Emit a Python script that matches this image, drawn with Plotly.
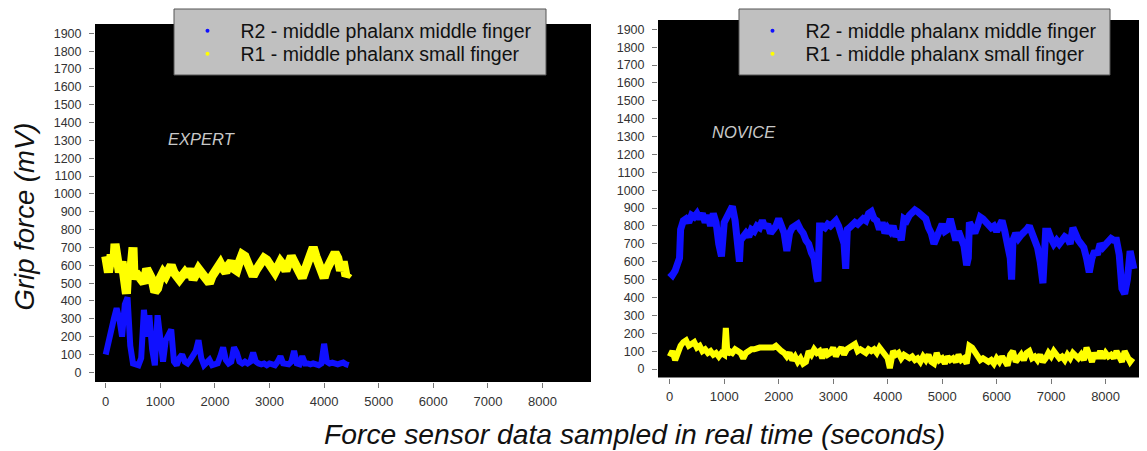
import plotly.graph_objects as go

# The page body adds an 8px margin, so the figure is 8px smaller than the window
OFF = 8
W, H = 1147 - OFF, 451 - OFF

# ---------------- data ----------------
series_names = ["R2 - middle phalanx middle finger", "R1 - middle phalanx small finger"]
panel_labels = ["EXPERT", "NOVICE"]
x_ticks = [0, 1000, 2000, 3000, 4000, 5000, 6000, 7000, 8000]
y_ticks = list(range(0, 2000, 100))

# EXPERT - R1 (yellow)
exp_r1_t = [0, 50, 100, 150, 170, 200, 250, 300, 350, 380, 400, 450, 500, 520, 550, 600, 650, 700, 750, 800,
            850, 900, 950, 1000, 1050, 1100, 1150, 1200, 1250, 1300, 1350, 1400, 1450, 1500, 1550, 1600, 1650,
            1700, 1750, 1800, 1850, 1900, 1950, 2000, 2050, 2100, 2150, 2200, 2250, 2300, 2350, 2400, 2450,
            2500, 2550, 2600, 2650, 2700, 2750, 2800, 2850, 2900, 2950, 3000, 3050, 3100, 3150, 3200, 3250,
            3300, 3350, 3400, 3450, 3500, 3550, 3600, 3650, 3700, 3750, 3800, 3850, 3900, 3950, 4000, 4050,
            4100, 4150, 4200, 4250, 4300, 4350, 4400, 4450]
exp_r1_v = [650, 560, 660, 620, 720, 640, 560, 620, 460, 440, 560, 540, 700, 520, 560, 540, 520, 500, 580, 560,
            520, 450, 470, 530, 560, 540, 580, 600, 560, 540, 520, 540, 560, 540, 580, 520, 560,
            580, 560, 540, 520, 500, 540, 570, 590, 610, 580, 560, 600, 620, 580, 570, 620,
            660, 650, 610, 580, 540, 570, 600, 620, 640, 630, 600, 570, 560, 590, 620, 600,
            570, 610, 650, 620, 600, 560, 530, 580, 630, 660, 700, 650, 600, 560, 530, 580,
            620, 650, 670, 640, 570, 620, 540, 560]

# EXPERT - R2 (blue)
exp_r2_t = [0, 50, 100, 150, 200, 250, 300, 350, 400, 450, 500, 550, 600, 650, 700, 750, 800, 850, 900, 950,
            1000, 1050, 1100, 1150, 1200, 1250, 1300, 1350, 1400, 1450, 1500, 1550, 1600, 1650, 1700, 1750,
            1800, 1850, 1900, 1950, 2000, 2050, 2100, 2150, 2200, 2250, 2300, 2350, 2400, 2450, 2500, 2550,
            2600, 2650, 2700, 2750, 2800, 2850, 2900, 2950, 3000, 3050, 3100, 3150, 3200, 3250, 3300, 3350,
            3400, 3450, 3500, 3550, 3600, 3650, 3700, 3750, 3800, 3850, 3900, 3950, 4000, 4050, 4100, 4150,
            4200, 4250, 4300, 4350, 4400, 4450]
exp_r2_v = [100, 180, 260, 300, 360, 300, 200, 380, 420, 150, 50, 40, 40, 80, 350, 200, 320, 130, 40, 320,
            200, 60, 180, 220, 240, 60, 40, 80, 100, 60, 50, 70, 90, 120, 180, 80,
            40, 50, 70, 40, 50, 50, 90, 140, 70, 50, 60, 140, 110, 60, 50, 60,
            50, 60, 110, 60, 50, 45, 50, 40, 50, 45, 40, 60, 90, 50, 50, 45,
            60, 120, 50, 45, 90, 50, 50, 45, 50, 45, 40, 50, 160, 60, 50, 55,
            50, 45, 50, 55, 45, 40]

# NOVICE - R2 (blue)
nov_r2_t = [0, 50, 100, 150, 180, 200, 250, 300, 350, 400, 450, 500, 550, 600, 650, 700, 750, 800, 850, 900,
            950, 1000, 1050, 1100, 1150, 1200, 1250, 1280, 1300, 1350, 1400, 1450, 1500, 1550, 1600, 1650,
            1700, 1750, 1800, 1850, 1900, 1950, 2000, 2050, 2100, 2150, 2200, 2250, 2300, 2350, 2400, 2450,
            2500, 2550, 2600, 2650, 2700, 2720, 2750, 2800, 2850, 2900, 2950, 3000, 3050, 3100, 3150, 3200,
            3230, 3260, 3300, 3350, 3400, 3450, 3500, 3550, 3600, 3650, 3700, 3750, 3800, 3850, 3900, 3950,
            4000, 4050, 4100, 4150, 4200, 4250, 4300, 4350, 4400, 4450, 4500, 4550, 4600, 4650, 4700, 4750,
            4800, 4850, 4900, 4950, 5000, 5050, 5100, 5150, 5200, 5250, 5300, 5350, 5400, 5450, 5480, 5500,
            5550, 5600, 5650, 5700, 5750, 5800, 5850, 5900, 5950, 6000, 6050, 6100, 6150, 6200, 6250, 6275,
            6300, 6350, 6400, 6450, 6500, 6550, 6600, 6650, 6700, 6750, 6800, 6850, 6900, 6950, 7000, 7050,
            7100, 7150, 7200, 7250, 7300, 7350, 7400, 7450, 7500, 7550, 7600, 7650, 7700, 7750, 7800, 7850,
            7900, 7950, 8000, 8050, 8100, 8150, 8200, 8250, 8300, 8350, 8400, 8450, 8500, 8520]
nov_r2_v = [540, 525, 550, 600, 620, 780, 830, 840, 820, 860, 850, 870, 840, 870, 820, 860, 800, 870, 820, 700,
            630, 820, 850, 860, 910, 830, 700, 600, 720, 740, 760, 740, 780, 770, 800, 790,
            830, 790, 810, 760, 780, 800, 840, 810, 760, 660, 760, 790, 800, 810, 780, 760,
            720, 700, 650, 620, 510, 490, 800, 800, 790, 810, 800, 820, 830, 800, 740, 700,
            560, 780, 790, 800, 820, 810, 830, 840, 830, 870, 880, 840, 830, 780, 820, 760,
            790, 770, 800, 740, 770, 720, 840, 830, 860, 870, 890, 880, 870, 850, 840, 790,
            760, 700, 740, 790, 810, 770, 780, 840, 760, 720, 770, 720, 690, 580, 620, 820,
            790, 760, 800, 850, 840, 820, 810, 790, 800, 770, 800, 830, 770, 700, 620, 500,
            720, 760, 730, 750, 760, 780, 800, 760, 700, 680, 600, 480, 770, 770, 730, 700,
            720, 700, 720, 740, 730, 700, 790, 750, 720, 700, 680, 620, 540, 620, 660, 640,
            700, 680, 700, 720, 730, 720, 720, 640, 450, 420, 500, 660, 600, 560]

# NOVICE - R1 (yellow)
nov_r1_t = [0, 50, 100, 150, 200, 250, 300, 350, 400, 450, 500, 550, 600, 650, 700, 750, 800, 850, 900, 950,
            1000, 1030, 1060, 1100, 1150, 1200, 1250, 1300, 1350, 1400, 1450, 1500, 1550, 1600, 1650, 1700,
            1750, 1800, 1850, 1900, 1950, 2000, 2050, 2100, 2150, 2200, 2250, 2300, 2350, 2400, 2450, 2500,
            2550, 2600, 2650, 2700, 2750, 2800, 2850, 2900, 2950, 3000, 3050, 3100, 3150, 3200, 3250, 3300,
            3350, 3400, 3450, 3500, 3550, 3600, 3650, 3700, 3750, 3800, 3850, 3900, 3950, 4000, 4040, 4070,
            4100, 4150, 4200, 4250, 4300, 4350, 4400, 4450, 4500, 4550, 4600, 4650, 4700, 4750, 4800, 4850,
            4900, 4950, 5000, 5050, 5100, 5150, 5200, 5250, 5300, 5350, 5400, 5450, 5500, 5550, 5600, 5650,
            5700, 5750, 5800, 5850, 5900, 5950, 6000, 6050, 6100, 6150, 6200, 6250, 6300, 6350, 6400, 6450,
            6500, 6550, 6600, 6650, 6700, 6750, 6800, 6850, 6900, 6950, 7000, 7050, 7100, 7150, 7200, 7250,
            7300, 7350, 7400, 7450, 7500, 7550, 7600, 7650, 7700, 7750, 7800, 7850, 7900, 7950, 8000, 8050,
            8100, 8150, 8200, 8250, 8300, 8350, 8400, 8450, 8500]
nov_r1_v = [70, 100, 50, 100, 130, 150, 160, 130, 140, 150, 120, 130, 100, 110, 90, 100, 80, 90, 70, 90,
            80, 230, 80, 100, 90, 110, 100, 90, 60, 90, 100, 110, 110, 120, 120, 120,
            120, 125, 120, 120, 130, 110, 100, 90, 70, 90, 50, 70, 40, 60, 30, 40,
            100, 80, 110, 90, 100, 60, 110, 80, 90, 120, 70, 100, 120, 80, 110, 120,
            130, 140, 100, 110, 100, 90, 110, 100, 110, 90, 120, 100, 80, 60, 5, 70,
            100, 80, 90, 60, 80, 70, 60, 70, 50, 60, 40, 70, 50, 80, 40, 30,
            90, 50, 60, 30, 70, 50, 60, 40, 80, 50, 60, 30, 130, 120, 100, 70,
            50, 60, 50, 40, 50, 30, 60, 40, 70, 40, 20, 80, 100, 40, 60, 80,
            50, 90, 100, 60, 70, 50, 80, 40, 60, 90, 70, 100, 80, 60, 70, 50,
            80, 60, 90, 70, 60, 80, 50, 120, 70, 40, 90, 60, 100, 60, 90, 70,
            80, 60, 100, 70, 40, 100, 60, 40, 60]

# ---------------- styling ----------------
BLUE = "#1010ff"
YELLOW = "#ffff00"
FONT = "Liberation Sans, Arial, sans-serif"


def px(x):
    # window pixel -> paper fraction
    return (x - OFF) / W


def py(y):
    return 1 - (y - OFF) / H


fig = go.Figure()

# data traces
fig.add_trace(go.Scatter(x=exp_r1_t, y=exp_r1_v, mode="lines", line=dict(color=YELLOW, width=9),
                         showlegend=False, xaxis="x", yaxis="y", name=series_names[1]))
fig.add_trace(go.Scatter(x=exp_r2_t, y=exp_r2_v, mode="lines", line=dict(color=BLUE, width=6),
                         showlegend=False, xaxis="x", yaxis="y", name=series_names[0]))
fig.add_trace(go.Scatter(x=nov_r2_t, y=nov_r2_v, mode="lines", line=dict(color=BLUE, width=7),
                         showlegend=False, xaxis="x2", yaxis="y2", name=series_names[0]))
fig.add_trace(go.Scatter(x=nov_r1_t, y=nov_r1_v, mode="lines", line=dict(color=YELLOW, width=6),
                         showlegend=False, xaxis="x2", yaxis="y2", name=series_names[1]))

# legend entries (marker-only, as in the reference legend)
leg_ids = ["legend", "legend2", "legend3", "legend4"]
leg_cfg = [(series_names[0], BLUE, "x", "y"), (series_names[1], YELLOW, "x", "y"),
           (series_names[0], BLUE, "x2", "y2"), (series_names[1], YELLOW, "x2", "y2")]
for lid, (nm, col, xa, ya) in zip(leg_ids, leg_cfg):
    fig.add_trace(go.Scatter(x=[None], y=[None], mode="markers", name=nm,
                             marker=dict(color=col, size=4), xaxis=xa, yaxis=ya,
                             legend=lid, showlegend=True))

# legend boxes
shapes = []
for (x0, x1) in [(174, 546), (739, 1110)]:
    shapes.append(dict(type="rect", xref="paper", yref="paper", x0=px(x0), x1=px(x1), y0=py(75), y1=py(9),
                       fillcolor="#c0c0c0", line=dict(color="#555555", width=1), layer="above"))

leg_font = dict(family=FONT, size=19.5, color="#111111")
legend_pos = [(174.5, 11.5), (174.5, 34.5), (739.5, 11.5), (739.5, 34.5)]
leg_layout = {}
for lid, (lx, ly) in zip(leg_ids, legend_pos):
    leg_layout[lid] = dict(x=px(lx), y=py(ly), xanchor="left", yanchor="top", bgcolor="rgba(0,0,0,0)",
                           borderwidth=0, font=leg_font, itemwidth=56)

axis_common = dict(showgrid=False, zeroline=False, showline=False, ticks="outside", ticklen=5,
                   tickcolor="#777777", tickwidth=1, automargin=False)

fig.update_layout(
    width=W, height=H,
    margin=dict(l=0, r=0, t=0, b=0),
    paper_bgcolor="white",
    plot_bgcolor="black",
    font=dict(family=FONT),
    xaxis=dict(domain=[px(95), px(591)], range=[-196, 8888], tickvals=x_ticks, anchor="y",
               ticklabelstandoff=2, tickfont=dict(size=13, color="#333333"), **axis_common),
    yaxis=dict(domain=[py(382), py(24)], range=[-54, 1952], tickvals=y_ticks, anchor="x",
               ticklabelstandoff=5, tickfont=dict(size=12.5, color="#333333"), **axis_common),
    xaxis2=dict(domain=[px(658), 1.0], range=[-215, 8760], tickvals=x_ticks, anchor="y2",
                ticklabelstandoff=2, tickfont=dict(size=13, color="#333333"), **axis_common),
    yaxis2=dict(domain=[py(377.5), py(20)], range=[-47.5, 1952], tickvals=y_ticks, anchor="x2",
                ticklabelstandoff=5, tickfont=dict(size=12.5, color="#333333"), **axis_common),
    shapes=shapes,
    **leg_layout,
)

annotations = [
    dict(text="Grip force (mV)", x=px(24), y=py(216.5), xref="paper", yref="paper", showarrow=False,
         textangle=-90, font=dict(family=FONT, size=27.5, color="#111111", style="italic"),
         xanchor="center", yanchor="middle"),
    dict(text="Force sensor data sampled in real time (seconds)", x=px(634), y=py(434), xref="paper",
         yref="paper", showarrow=False, font=dict(family=FONT, size=28.3, color="#111111", style="italic"),
         xanchor="center", yanchor="middle"),
    dict(text=panel_labels[0], x=px(201.5), y=py(139.3), xref="paper", yref="paper", showarrow=False,
         font=dict(family=FONT, size=16.5, color="#c8c8c8", style="italic"), xanchor="center", yanchor="middle"),
    dict(text=panel_labels[1], x=px(743.5), y=py(131.7), xref="paper", yref="paper", showarrow=False,
         font=dict(family=FONT, size=16.5, color="#c8c8c8", style="italic"), xanchor="center", yanchor="middle"),
]
fig.update_layout(annotations=annotations)

fig.write_html("out.html")
